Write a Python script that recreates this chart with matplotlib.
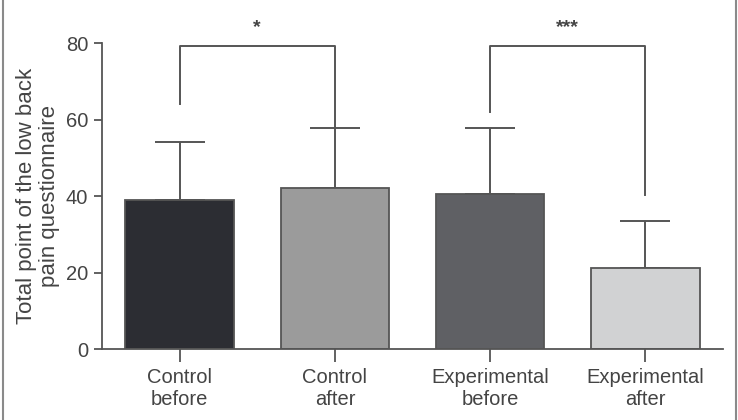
import matplotlib.pyplot as plt
from matplotlib.lines import Line2D

plt.rcParams['font.family'] = ['Liberation Sans', 'DejaVu Sans']

groups = ["Control\nbefore", "Control\nafter", "Experimental\nbefore", "Experimental\nafter"]
means = [39.0, 42.0, 40.5, 21.2]
sds = [15.0, 15.8, 17.3, 12.3]
colors = ["#2c2d33", "#9b9b9b", "#5f6064", "#d1d2d3"]

# significance brackets: (left bar, right bar, left leg end, right leg end, label)
brackets = [(0, 1, 64, 57.8, "*"), (2, 3, 62, 40.3, "***")]
bracket_top = 79.2

axis_col = "#555555"
text_col = "#444444"

fig = plt.figure(figsize=(7.38, 4.2), dpi=100)
ax = fig.add_axes([0.1382, 0.169, 0.8415, 0.7286])

x = list(range(len(groups)))
ax.bar(x, means, width=0.70, color=colors, edgecolor=axis_col, linewidth=1.3, zorder=2)
ax.errorbar(x, means, yerr=[[0] * len(sds), sds], fmt='none', ecolor=axis_col,
            elinewidth=1.4, capsize=18, capthick=1.4, zorder=1)

for a, b, la, lb, lab in brackets:
    ax.plot([a, a, b, b], [la, bracket_top, bracket_top, lb], color=axis_col,
            lw=1.4, clip_on=False)
    ax.text((a + b) / 2, 84.0, lab, ha='center', va='center', fontsize=14,
            fontweight='bold', color=text_col, clip_on=False)

ax.set_xlim(-0.5, 3.5)
ax.set_ylim(0, 80)
ax.set_yticks([0, 20, 40, 60, 80])
ax.set_xticks(x)
ax.set_xticklabels(groups, fontsize=14.5, color=text_col, linespacing=1.2)
ax.tick_params(axis='y', labelsize=14.5, labelcolor=text_col, color=axis_col,
               length=6, width=1.3, pad=4)
ax.tick_params(axis='x', color=axis_col, length=9, width=1.3, pad=5)
for s in ['top', 'right']:
    ax.spines[s].set_visible(False)
for s in ['left', 'bottom']:
    ax.spines[s].set_color(axis_col)
    ax.spines[s].set_linewidth(1.3)

ax.set_ylabel("Total point of the low back\npain questionnaire", fontsize=16,
              color=text_col, labelpad=4, linespacing=1.15)

# figure frame
fig.add_artist(Line2D([0.004, 0.004], [0, 1], transform=fig.transFigure,
                      color="#8a8a8a", lw=1.5))
fig.add_artist(Line2D([0.997, 0.997], [0, 1], transform=fig.transFigure,
                      color="#8a8a8a", lw=1.5))

fig.savefig("out.png", dpi=100)
